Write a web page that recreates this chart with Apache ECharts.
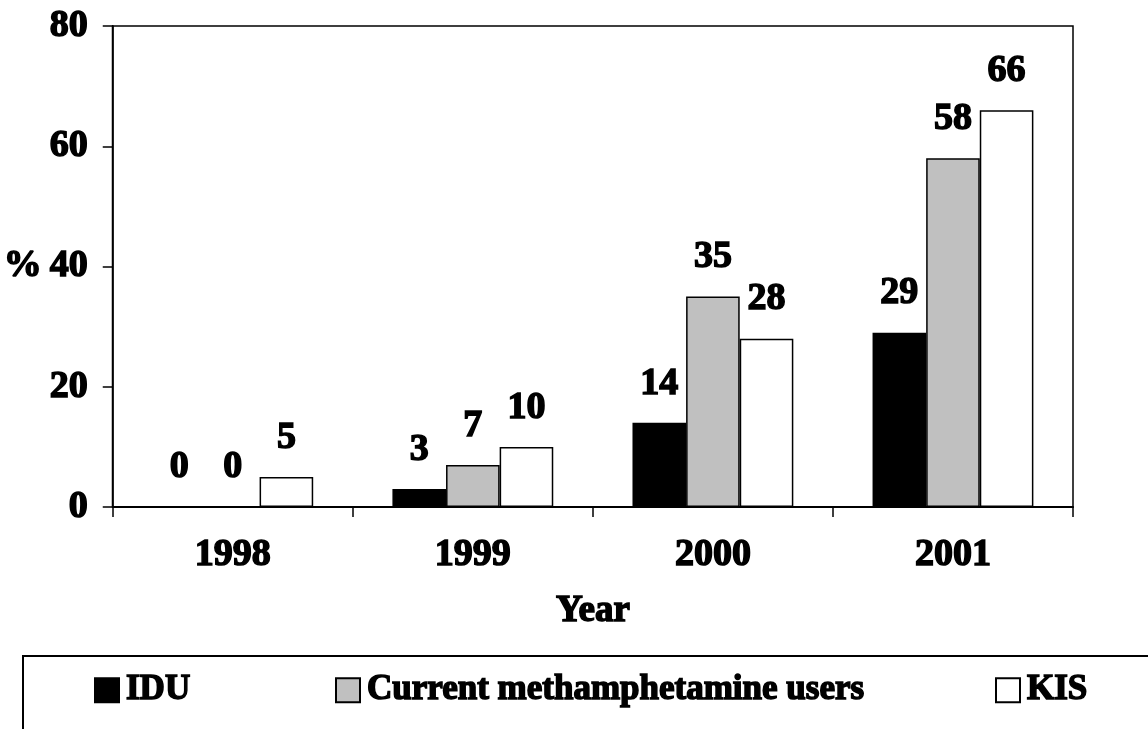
<!DOCTYPE html>
<html>
<head>
<meta charset="utf-8">
<script src="https://cdn.jsdelivr.net/npm/echarts@6/dist/echarts.min.js"></script>
<style>
  html, body { margin: 0; padding: 0; background: #fff; }
  #chart { width: 1148px; height: 729px; }
</style>
</head>
<body>
<div id="chart"></div>
<script>
// Data
const years = ['1998', '1999', '2000', '2001']
const idu = [0, 3, 14, 29]
const methUsers = [0, 7, 35, 58]
const kis = [5, 10, 28, 66]
const yTicks = [0, 20, 40, 60, 80]

const FONT = 'Liberation Serif'
const bold = {
  fontFamily: FONT,
  fontWeight: 'bold',
  fontSize: 38,
  color: '#000',
  textBorderColor: '#000',
  textBorderWidth: 1.5
}

const barLabel = Object.assign({ show: true, position: 'top', distance: 20 }, bold)

const chart = echarts.init(document.getElementById('chart'))

// one legend per item so each can sit where it does in the picture
const legendAt = (name, left) => ({
  data: [name],
  left: left,
  top: 672,
  padding: 0,
  itemWidth: 24,
  itemHeight: 24,
  icon: 'rect',
  selectedMode: false,
  textStyle: Object.assign({}, bold, { fontSize: 35, padding: [0, 0, 0, 2] })
})

chart.setOption({
  animation: false,
  backgroundColor: '#fff',
  grid: {
    left: 108,
    right: 75,
    top: 26,
    bottom: 222,
    show: true,
    borderColor: '#000',
    borderWidth: 1.5,
    backgroundColor: 'transparent'
  },
  legend: [
    legendAt('IDU', 94),
    legendAt('Current methamphetamine users', 335),
    legendAt('KIS', 995)
  ],
  graphic: [
    {
      type: 'rect',
      shape: { x: 23, y: 656, width: 1200, height: 200 },
      style: { fill: 'none', stroke: '#000', lineWidth: 2 },
      z: -1
    }
  ],
  xAxis: {
    type: 'category',
    data: years,
    name: 'Year',
    nameLocation: 'middle',
    nameGap: 86,
    nameTextStyle: Object.assign({}, bold, { fontSize: 37 }),
    axisLine: { lineStyle: { color: '#000', width: 2 } },
    axisTick: { show: true, length: 10, lineStyle: { color: '#000', width: 1.5 } },
    axisLabel: Object.assign({ margin: 29 }, bold)
  },
  yAxis: {
    type: 'value',
    min: yTicks[0],
    max: yTicks[yTicks.length - 1],
    interval: yTicks[1] - yTicks[0],
    name: '%',
    nameLocation: 'middle',
    nameRotate: 0,
    nameGap: 71,
    nameTextStyle: Object.assign({}, bold, { align: 'right' }),
    axisLine: { show: true, lineStyle: { color: '#000', width: 2 } },
    axisTick: { show: true, length: 10, lineStyle: { color: '#000', width: 1.5 } },
    axisLabel: Object.assign({ margin: 25 }, bold),
    splitLine: { show: false }
  },
  series: [
    {
      name: 'IDU',
      type: 'bar',
      data: idu,
      barGap: '0%',
      barCategoryGap: '33%',
      itemStyle: { color: '#000', borderColor: '#000', borderWidth: 1.5 },
      label: barLabel
    },
    {
      name: 'Current methamphetamine users',
      type: 'bar',
      data: methUsers,
      itemStyle: { color: '#c0c0c0', borderColor: '#000', borderWidth: 1.5 },
      label: barLabel
    },
    {
      name: 'KIS',
      type: 'bar',
      data: kis,
      itemStyle: { color: '#fff', borderColor: '#000', borderWidth: 1.5 },
      label: barLabel
    }
  ]
})

window.addEventListener('resize', () => chart.resize())
</script>
</body>
</html>
